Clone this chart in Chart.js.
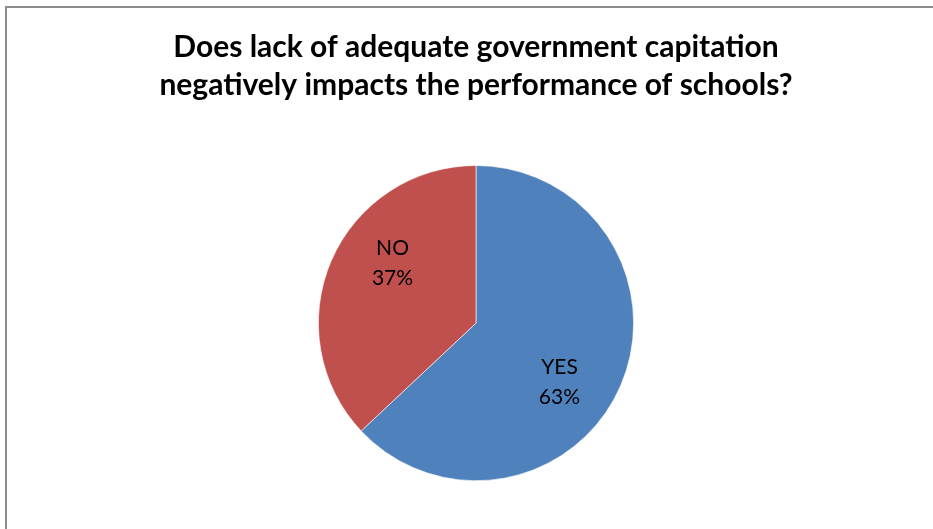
<!DOCTYPE html>
<html>
<head>
<meta charset="utf-8">
<script src="https://cdn.jsdelivr.net/npm/chart.js@4"></script>
<style>
  html, body { margin: 0; padding: 0; background: #fff; }
  #wrap { width: 933px; height: 529px; position: relative; }
</style>
</head>
<body>
<div id="wrap"><canvas id="pieChart" width="933" height="529"></canvas></div>
<script>
const answers = ['YES', 'NO'];
const shares = [63, 37];
const sliceColors = ['#4F81BD', '#C0504D'];
const titleLines = ['Does lack of adequate government capitation', 'negatively impacts the performance of schools?'];

// outer frame of the chart box
const framePlugin = {
    id: 'frame',
    beforeDraw(chart) {
        const ctx = chart.ctx;
        ctx.save();
        ctx.fillStyle = '#fff';
        ctx.fillRect(0, 0, chart.width, chart.height);
        ctx.strokeStyle = '#8c8c8c';
        ctx.lineWidth = 2;
        ctx.beginPath();
        ctx.moveTo(6, chart.height + 2);
        ctx.lineTo(6, 7);
        ctx.lineTo(chart.width + 2, 7);
        ctx.stroke();
        ctx.restore();
    }
};

// category name and percentage inside each slice
const sliceLabels = {
    id: 'sliceLabels',
    afterDatasetsDraw(chart) {
        const ctx = chart.ctx;
        const meta = chart.getDatasetMeta(0);
        const data = chart.data.datasets[0].data;
        const total = data.reduce((a, b) => a + b, 0);
        ctx.save();
        ctx.fillStyle = '#000';
        ctx.font = '21px Lato';
        ctx.textAlign = 'center';
        ctx.textBaseline = 'middle';
        meta.data.forEach((arc, i) => {
            const p = arc.getProps(['x', 'y', 'startAngle', 'endAngle', 'outerRadius'], true);
            const mid = (p.startAngle + p.endAngle) / 2 + 0.21;
            const r = p.outerRadius * 0.65;
            const cx = p.x + Math.cos(mid) * r;
            const cy = p.y + Math.sin(mid) * r;
            const pct = Math.round(data[i] / total * 100) + '%';
            ctx.fillText(chart.data.labels[i], cx, cy - 15);
            ctx.fillText(pct, cx, cy + 15);
        });
        ctx.restore();
    }
};

const ctx = document.getElementById('pieChart').getContext('2d');
new Chart(ctx, {
    type: 'pie',
    data: {
        labels: answers,
        datasets: [{
            data: shares,
            backgroundColor: sliceColors,
            borderColor: '#ffffff',
            borderWidth: 0.6
        }]
    },
    options: {
        responsive: false,
        animation: false,
        layout: { padding: { top: 0, bottom: 48, left: 19, right: 0 } },
        plugins: {
            legend: { display: false },
            tooltip: { enabled: false },
            title: {
                display: true,
                text: titleLines,
                color: '#000',
                font: { family: 'Lato', size: 30, weight: 'bold', lineHeight: 1.27 },
                padding: { top: 28, bottom: 61 }
            }
        }
    },
    plugins: [framePlugin, sliceLabels]
});
</script>
</body>
</html>
